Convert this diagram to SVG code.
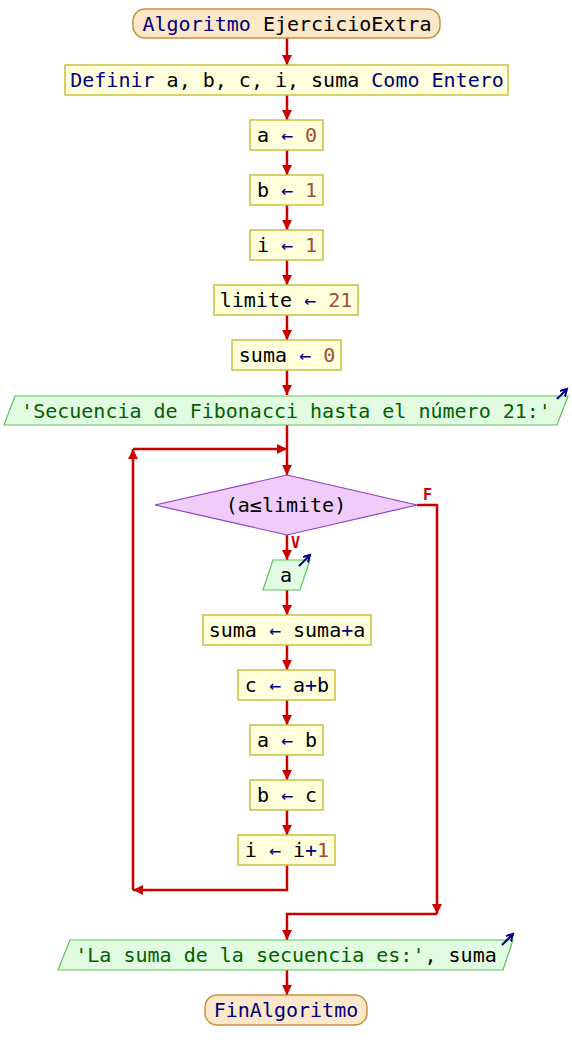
<svg xmlns="http://www.w3.org/2000/svg" width="572" height="1060" viewBox="0 0 572 1060">
<defs>
<marker id="ah" markerUnits="userSpaceOnUse" markerWidth="12" markerHeight="10" refX="10" refY="5" orient="auto">
<path d="M0,0 L10,5 L0,10 z" fill="#cc0000"/>
</marker>
<marker id="oh" markerUnits="userSpaceOnUse" markerWidth="10" markerHeight="10" refX="7" refY="4" orient="auto">
<path d="M0,0 L7,4 L0,8" fill="none" stroke="#000080" stroke-width="2"/>
</marker>
</defs>
<style>
text{font-family:"DejaVu Sans Mono","Liberation Mono",monospace;font-size:20px;fill:#000000}
.proc{fill:#ffffdc;stroke:#c8c040;stroke-width:1.5}
.term{fill:#fce8c8;stroke:#c89040;stroke-width:1.5}
.out{fill:#e2fce2;stroke:#60c060;stroke-width:1.2}
.dec{fill:#f0ccfa;stroke:#9040c0;stroke-width:1.2}
.kw{fill:#000080}
.op{fill:#000080}
.num{fill:#a05030}
.str{fill:#006000}
.lbl{fill:#cc0000;font-size:15px;font-weight:bold}
.c{fill:none;stroke:#cc0000;stroke-width:2.5}
.ic{fill:none;stroke:#000080;stroke-width:2}
</style>
<g id="connectors">
<path class="c" d="M287,38 V65" marker-end="url(#ah)"/>
<path class="c" d="M287,95 V120" marker-end="url(#ah)"/>
<path class="c" d="M287,150 V175" marker-end="url(#ah)"/>
<path class="c" d="M287,205 V230" marker-end="url(#ah)"/>
<path class="c" d="M287,260 V285" marker-end="url(#ah)"/>
<path class="c" d="M287,315 V340" marker-end="url(#ah)"/>
<path class="c" d="M287,370 V395" marker-end="url(#ah)"/>
<path class="c" d="M287,425 V475" marker-end="url(#ah)"/>
<path class="c" d="M287,535 V560" marker-end="url(#ah)"/>
<path class="c" d="M287,590 V615" marker-end="url(#ah)"/>
<path class="c" d="M287,645 V670" marker-end="url(#ah)"/>
<path class="c" d="M287,700 V725" marker-end="url(#ah)"/>
<path class="c" d="M287,755 V780" marker-end="url(#ah)"/>
<path class="c" d="M287,810 V835" marker-end="url(#ah)"/>
<path class="c" d="M287,865 V890 H133" marker-end="url(#ah)"/>
<path class="c" d="M133,890 V449" marker-end="url(#ah)"/>
<path class="c" d="M133,449 H287" marker-end="url(#ah)"/>
<path class="c" d="M417,505 H437 V914" marker-end="url(#ah)"/>
<path class="c" d="M437,914 H287 V940" marker-end="url(#ah)"/>
<path class="c" d="M287,970 V995" marker-end="url(#ah)"/>
<text class="lbl" x="423" y="500">F</text>
<text class="lbl" x="291" y="548">V</text>
</g>
<g id="start">
<rect class="term" x="133" y="9" width="307" height="29" rx="12"/>
<text x="287" y="31" text-anchor="middle"><tspan class="kw">Algoritmo</tspan> EjercicioExtra</text>
</g>
<g id="definir">
<rect class="proc" x="65" y="65" width="443" height="30"/>
<text x="287" y="87" text-anchor="middle"><tspan class="kw">Definir</tspan> a, b, c, i, suma <tspan class="kw">Como Entero</tspan></text>
</g>
<g id="a0">
<rect class="proc" x="250" y="120" width="73" height="30"/>
<text x="287" y="142" text-anchor="middle">a <tspan class="op">←</tspan> <tspan class="num">0</tspan></text>
</g>
<g id="b1">
<rect class="proc" x="250" y="175" width="73" height="30"/>
<text x="287" y="197" text-anchor="middle">b <tspan class="op">←</tspan> <tspan class="num">1</tspan></text>
</g>
<g id="i1">
<rect class="proc" x="250" y="230" width="73" height="30"/>
<text x="287" y="252" text-anchor="middle">i <tspan class="op">←</tspan> <tspan class="num">1</tspan></text>
</g>
<g id="limite">
<rect class="proc" x="214" y="285" width="144" height="30"/>
<text x="286" y="307" text-anchor="middle">limite <tspan class="op">←</tspan> <tspan class="num">21</tspan></text>
</g>
<g id="suma0">
<rect class="proc" x="232" y="340" width="109" height="30"/>
<text x="287" y="362" text-anchor="middle">suma <tspan class="op">←</tspan> <tspan class="num">0</tspan></text>
</g>
<g id="out1">
<polygon class="out" points="15,396 568,396 557,425 4,425"/>
<text x="286" y="418" text-anchor="middle" class="str">'Secuencia de Fibonacci hasta el número 21:'</text>
<path class="ic" d="M557,399 L567,389" marker-end="url(#oh)"/>
</g>
<g id="cond">
<polygon class="dec" points="287,475 417,505 287,535 155,505"/>
<text x="286" y="512" text-anchor="middle">(a≤limite)</text>
</g>
<g id="outa">
<polygon class="out" points="273,560 310,560 300,590 263,590"/>
<text x="286" y="582" text-anchor="middle">a</text>
<path class="ic" d="M299,566 L310,555" marker-end="url(#oh)"/>
</g>
<g id="sumaa">
<rect class="proc" x="203" y="615" width="168" height="30"/>
<text x="287" y="637" text-anchor="middle">suma <tspan class="op">←</tspan> suma<tspan class="op">+</tspan>a</text>
</g>
<g id="cab">
<rect class="proc" x="238" y="670" width="97" height="30"/>
<text x="287" y="692" text-anchor="middle">c <tspan class="op">←</tspan> a<tspan class="op">+</tspan>b</text>
</g>
<g id="ab">
<rect class="proc" x="250" y="725" width="73" height="30"/>
<text x="287" y="747" text-anchor="middle">a <tspan class="op">←</tspan> b</text>
</g>
<g id="bc">
<rect class="proc" x="250" y="780" width="73" height="30"/>
<text x="287" y="802" text-anchor="middle">b <tspan class="op">←</tspan> c</text>
</g>
<g id="ii1">
<rect class="proc" x="238" y="835" width="97" height="30"/>
<text x="287" y="857" text-anchor="middle">i <tspan class="op">←</tspan> i<tspan class="op">+</tspan><tspan class="num">1</tspan></text>
</g>
<g id="out2">
<polygon class="out" points="70,940 513,940 503,970 58,970"/>
<text x="286" y="962" text-anchor="middle"><tspan class="str">'La suma de la secuencia es:'</tspan>, suma</text>
<path class="ic" d="M502,945 L513,934" marker-end="url(#oh)"/>
</g>
<g id="end">
<rect class="term" x="205" y="995" width="162" height="30" rx="12"/>
<text x="286" y="1017" text-anchor="middle" class="kw">FinAlgoritmo</text>
</g>
</svg>
